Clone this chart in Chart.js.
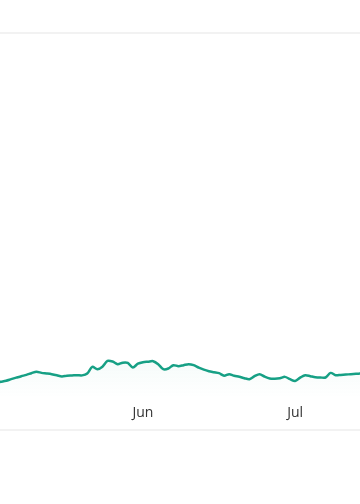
<!DOCTYPE html>
<html>
<head>
<meta charset="utf-8">
<script src="https://cdn.jsdelivr.net/npm/chart.js@4/dist/chart.umd.min.js"></script>
<style>
  html, body { margin: 0; padding: 0; background: #fff; }
  .chart-box { position: relative; width: 360px; height: 429px; border-bottom: 2px solid #f2f2f2; }
</style>
</head>
<body>
<div class="chart-box"><canvas id="trend-chart"></canvas></div>
<script>
// day numbers count from May 1 = day 0
const firstDay = 2;
const viewStart = 2.8;
const viewEnd = 73.8;
const tickDays = [31, 61];
const tickLabels = ['Jun', 'Jul'];

const values = [
  4.25, 4.52, 4.79, 5.21, 5.62, 6.03, 6.38, 6.85, 7.26, 6.93,
  6.77, 6.58, 6.30, 5.95, 6.16, 6.22, 6.30, 6.25, 6.77, 8.58,
  7.95, 8.63, 10.22, 10.05, 9.32, 9.73, 9.67, 8.41, 9.45, 9.86,
  10.00, 10.14, 9.32, 7.95, 8.14, 9.04, 8.77, 9.04, 9.32, 9.04,
  8.36, 7.81, 7.40, 7.12, 6.85, 6.16, 6.58, 6.16, 5.89, 5.48,
  5.21, 6.03, 6.58, 5.89, 5.40, 5.34, 5.48, 5.84, 5.21, 4.74,
  5.62, 6.30, 6.03, 5.75, 5.67, 5.67, 6.93, 6.30, 6.38, 6.47,
  6.58, 6.68, 6.77
];

const points = values.map((v, i) => ({ x: firstDay + i, y: v }));

Chart.defaults.font.family = "'Open Sans', sans-serif";

const ctx = document.querySelector('#trend-chart').getContext('2d');

let fillGradient = (context) => {
  const area = context.chart.chartArea;
  if (!area) return 'rgba(23,160,133,0.03)';
  const g = context.chart.ctx.createLinearGradient(0, area.top + 325, 0, area.bottom);
  g.addColorStop(0, 'rgba(23,160,133,0.045)');
  g.addColorStop(1, 'rgba(23,160,133,0)');
  return g;
};

const trendChart = new Chart(ctx, {
  type: 'line',
  data: {
    datasets: [{
      data: points,
      borderColor: '#17a085',
      borderWidth: 2.5,
      tension: 0.3,
      pointRadius: 0,
      fill: 'origin',
      backgroundColor: fillGradient
    }]
  },
  options: {
    responsive: true,
    maintainAspectRatio: false,
    animation: false,
    layout: { padding: { top: 33, bottom: 2, left: 0, right: 0 } },
    plugins: { legend: { display: false }, tooltip: { enabled: false } },
    scales: {
      x: {
        type: 'linear',
        min: viewStart,
        max: viewEnd,
        afterBuildTicks: (axis) => { axis.ticks = tickDays.map(d => ({ value: d })); },
        ticks: {
          padding: 6,
          color: '#333',
          font: { size: 14 },
          maxRotation: 0,
          callback: (value) => tickLabels[tickDays.indexOf(value)]
        },
        grid: { display: false, drawTicks: false },
        border: { display: false }
      },
      y: {
        min: 0,
        max: 100,
        afterBuildTicks: (axis) => { axis.ticks = [{ value: 100 }]; },
        ticks: { display: false },
        grid: { color: '#f2f2f2', lineWidth: 2, drawTicks: false },
        border: { display: false }
      }
    }
  }
});
</script>
</body>
</html>
